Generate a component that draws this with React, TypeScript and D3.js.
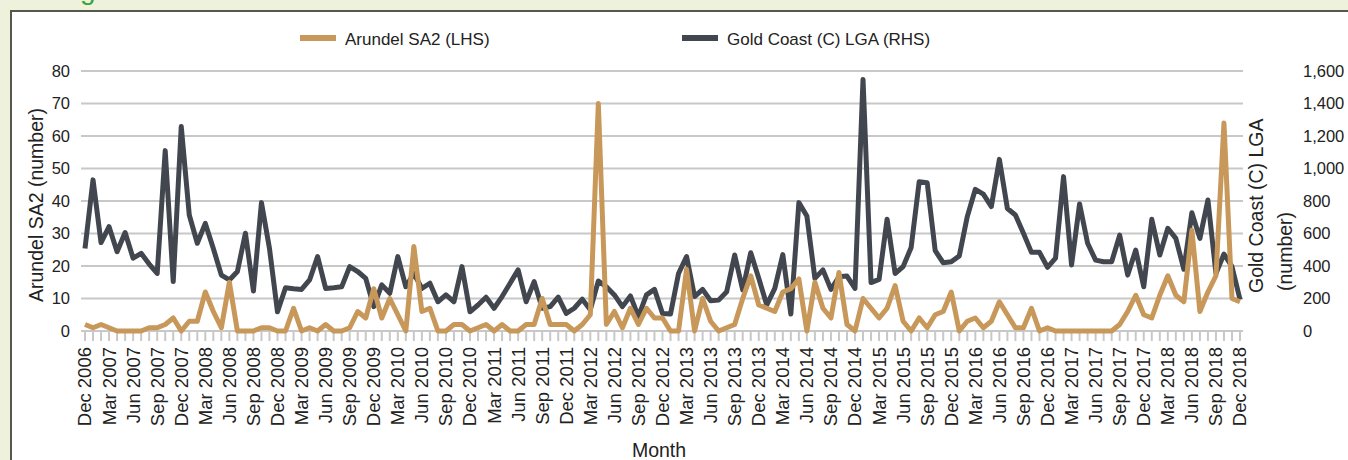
import React from 'react';
import * as d3 from 'd3';

const MONTH_ABBR = ['Jan', 'Feb', 'Mar', 'Apr', 'May', 'Jun', 'Jul', 'Aug', 'Sep', 'Oct', 'Nov', 'Dec'];
// Monthly categories Dec 2006 .. Dec 2018
const months: string[] = d3.range(145).map((i) => {
  const m = (11 + i) % 12;
  const y = 2006 + Math.floor((11 + i) / 12);
  return `${MONTH_ABBR[m]} ${y}`;
});
const tickLabels: string[] = months.filter((_, i) => i % 3 === 0);

const arundel: number[] = [
  2, 1, 2, 1, 0, 0, 0, 0, 1, 1, 2, 4, 0, 3, 3, 12, 6, 1, 15, 0, 0, 0, 1, 1,
  0, 0, 7, 0, 1, 0, 2, 0, 0, 1, 6, 4, 13, 4, 10, 5, 0, 26, 6, 7, 0, 0, 2, 2,
  0, 1, 2, 0, 2, 0, 0, 2, 2, 10, 2, 2, 2, 0, 2, 5, 70, 2, 6, 1, 7, 2, 7, 4,
  4, 0, 0, 19, 0, 10, 3, 0, 1, 2, 10, 17, 8, 7, 6, 12, 13, 16, 0, 15, 7, 4,
  18, 2, 0, 10, 7, 4, 7, 14, 3, 0, 4, 1, 5, 6, 12, 0, 3, 4, 1, 3, 9, 5,
  1, 1, 7, 0, 1, 0, 0, 0, 0, 0, 0, 0, 0, 2, 6, 11, 5, 4, 11, 17, 11, 9,
  31, 6, 12, 17, 64, 10, 9,
];

const goldCoast: number[] = [
  508, 930, 544, 642, 488, 606, 448, 478, 412, 354, 1110, 304, 1258, 714, 540, 662, 508, 344, 314, 366, 602, 246, 790, 508,
  118, 266, 260, 256, 314, 458, 262, 266, 272, 396, 366, 324, 150, 284, 232, 458, 272, 354, 262, 294, 180, 222, 180, 396,
  118, 160, 208, 140, 212, 294, 376, 180, 304, 140, 150, 208, 108, 140, 196, 130, 308, 272, 222, 150, 216, 88, 222, 256,
  108, 104, 354, 458, 212, 256, 186, 190, 242, 468, 252, 482, 324, 160, 262, 470, 104, 790, 708, 324, 376, 256, 334, 338,
  262, 1548, 298, 318, 688, 354, 396, 514, 918, 912, 494, 420, 426, 462, 704, 872, 842, 766, 1056, 754, 714, 602, 484, 484,
  392, 448, 950, 406, 782, 540, 436, 426, 426, 590, 344, 498, 272, 688, 468, 632, 570, 380, 728, 570, 806, 354, 474, 396,
  194,
];

const leftTicks: number[] = [0, 10, 20, 30, 40, 50, 60, 70, 80];
const rightTicks: number[] = [0, 200, 400, 600, 800, 1000, 1200, 1400, 1600];

const TAN = '#c8985a';
const DARK = '#42474f';
const FONT = '"Liberation Sans", Arial, Helvetica, sans-serif';

export default function App() {
  const W = 1348;
  const H = 460;
  const x = d3.scalePoint<string>().domain(months).range([85, 1240]);
  const yL = d3.scaleLinear().domain([0, 80]).range([331, 71]);
  const yR = d3.scaleLinear().domain([0, 1600]).range([331, 71]);
  const fmt = d3.format(',');

  const lineL = d3
    .line<number>()
    .x((_, i) => x(months[i]) as number)
    .y((d) => yL(d));
  const lineR = d3
    .line<number>()
    .x((_, i) => x(months[i]) as number)
    .y((d) => yR(d));

  return (
    <svg
      width={W}
      height={H}
      style={{ position: 'absolute', left: 0, top: 0, display: 'block' }}
      fontFamily={FONT}
    >
      <rect x={0} y={0} width={W} height={H} fill="#eef2dc" />
      <text x={80} y={-1} fontSize={28} fill="#3aa53a" fontFamily={FONT}>
        g
      </text>
      <rect x={11} y={11} width={1400} height={500} fill="#ffffff" stroke="#55584a" strokeWidth={2} />

      {/* legend */}
      <g>
        <line x1={300} x2={336} y1={38} y2={38} stroke={TAN} strokeWidth={6} />
        <text x={345} y={39} dy="0.35em" fontSize={17} fill="#222">
          Arundel SA2 (LHS)
        </text>
        <line x1={682} x2={718} y1={38} y2={38} stroke={DARK} strokeWidth={6} />
        <text x={727} y={39} dy="0.35em" fontSize={17} fill="#222">
          Gold Coast (C) LGA (RHS)
        </text>
      </g>

      {/* gridlines */}
      {leftTicks.map((t) => (
        <line key={'g' + t} x1={81} x2={1243} y1={yL(t)} y2={yL(t)} stroke="#c8c8c8" strokeWidth={2} />
      ))}

      {/* x ticks */}
      {months.map((m) => (
        <line key={'t' + m} x1={x(m)} x2={x(m)} y1={331} y2={341} stroke="#c8c8c8" strokeWidth={2} />
      ))}

      {/* left axis labels */}
      {leftTicks.map((t) => (
        <text key={'l' + t} x={70} y={yL(t)} dy="0.35em" textAnchor="end" fontSize={16.5} fill="#222">
          {t}
        </text>
      ))}
      {/* right axis labels */}
      {rightTicks.map((t) => (
        <text key={'r' + t} x={1303} y={yR(t)} dy="0.35em" textAnchor="start" fontSize={16.5} fill="#222">
          {fmt(t)}
        </text>
      ))}

      {/* x labels */}
      {tickLabels.map((m) => (
        <text
          key={'x' + m}
          transform={`translate(${x(m)},347) rotate(-90)`}
          textAnchor="end"
          dy="0.35em"
          fontSize={18.5}
          fill="#222"
        >
          {m}
        </text>
      ))}

      {/* axis titles */}
      <text transform="translate(36,205) rotate(-90)" textAnchor="middle" dy="0.35em" fontSize={19.5} fill="#222">
        Arundel SA2 (number)
      </text>
      <text transform="translate(1256,293) rotate(-90)" textAnchor="start" dy="0.35em" fontSize={19.5} fill="#222">
        Gold Coast (C) LGA
      </text>
      <text transform="translate(1285,291) rotate(-90)" textAnchor="start" dy="0.35em" fontSize={19.5} fill="#222">
        (number)
      </text>
      <text x={659} y={457} textAnchor="middle" fontSize={19.5} fill="#222">
        Month
      </text>

      {/* series */}
      <path d={lineR(goldCoast) || ''} fill="none" stroke={DARK} strokeWidth={5} strokeLinejoin="round" />
      <path d={lineL(arundel) || ''} fill="none" stroke={TAN} strokeWidth={5} strokeLinejoin="round" />
    </svg>
  );
}
